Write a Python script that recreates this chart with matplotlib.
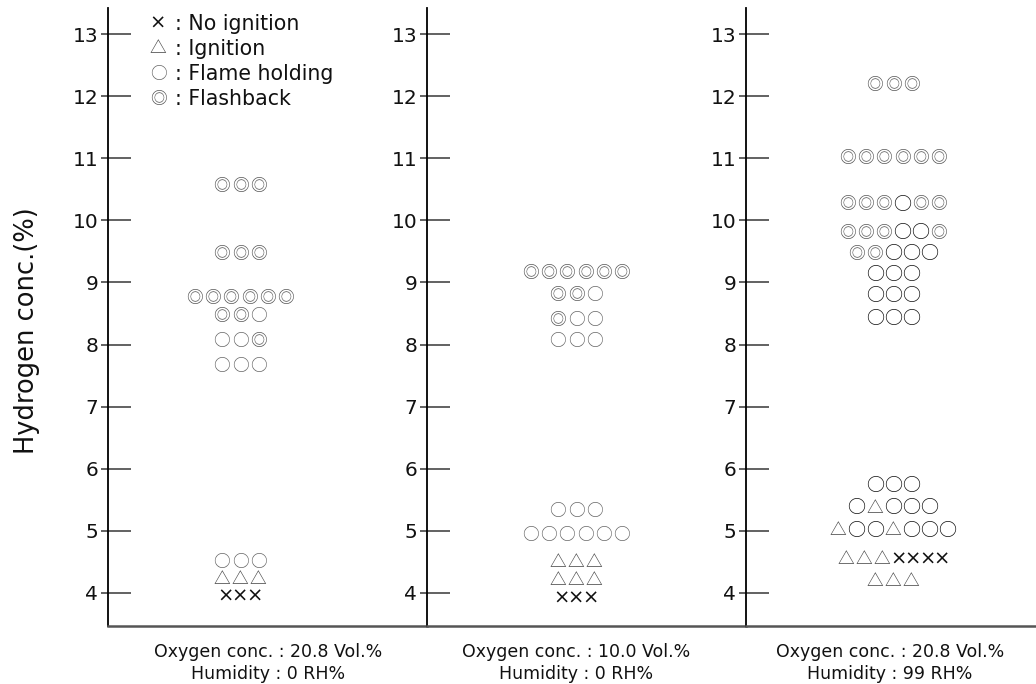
"""
Mapa de estados de combustión: concentración de hidrógeno por condición.
"""

import matplotlib
matplotlib.use("Agg")
import matplotlib.pyplot as plt
from matplotlib import transforms

# Datos: (conc. de hidrógeno %, símbolos de la fila)
filas_1 = [(10.6, '◎◎◎'), (9.5, '◎◎◎'), (8.8, '◎◎◎◎◎◎'), (8.5, '◎◎○'),
           (8.1, '○○◎'), (7.7, '○○○'), (4.55, '○○○'), (4.27, '△△△'),
           (4.0, '×××')]
filas_2 = [(9.2, '◎◎◎◎◎◎'), (8.85, '◎◎○'), (8.45, '◎○○'), (8.1, '○○○'),
           (5.37, '○○○'), (4.98, '○○○○○○'), (4.54, '△△△'), (4.26, '△△△'),
           (3.97, '×××')]
filas_3 = [(12.22, '◎◎◎'), (11.05, '◎◎◎◎◎◎'), (10.31, '◎◎◎○◎◎'),
           (9.85, '◎◎◎○○◎'), (9.51, '◎◎○○○'), (9.17, '○○○'), (8.83, '○○○'),
           (8.46, '○○○'), (5.78, '○○○'), (5.42, '○△○○○'), (5.06, '△○○△○○○'),
           (4.6, '△△△××××'), (4.24, '△△△')]

condiciones = ["Oxygen conc. : 20.8 Vol.%\nHumidity : 0 RH%",
               "Oxygen conc. : 10.0 Vol.%\nHumidity : 0 RH%",
               "Oxygen conc. : 20.8 Vol.%\nHumidity : 99 RH%"]

leyenda = [('×', 'No ignition'), ('△', 'Ignition'),
           ('○', 'Flame holding'), ('◎', 'Flashback')]

ticks_y = list(range(4, 14))

# Estilo
W, H = 1036, 684
SIMB = ['Noto Sans CJK JP', 'DejaVu Sans']
ancho = {'◎': 18.3, '○': 18.3, '△': 18.0, '×': 14.5}
color = {'◎': '#555555', '○': '#666666', '△': '#444444', '×': '#111111'}
fuente = {'◎': SIMB, '○': SIMB, '△': SIMB, '×': ['DejaVu Sans']}
tam = {'◎': 12, '○': 12, '△': 12, '×': 14}

fig = plt.figure(figsize=(W / 100, H / 100), dpi=100)

# (x del eje en px, ancho en px, centro de filas en px)
paneles = [(108, 319, 132), (427, 319, 149), (746, 290, 147)]
centros_texto = [268, 576, 890]
y_top, y_bot = 8, 626
ymin, ymax = 3.467, 13.419

for i, ((x0, w, cx), filas) in enumerate(zip(paneles, [filas_1, filas_2, filas_3])):
    ax = fig.add_axes([x0 / W, (H - y_bot) / H, w / W, (y_bot - y_top) / H])
    ax.set_xlim(0, w)
    ax.set_ylim(ymin, ymax)
    for s in ['top', 'right']:
        ax.spines[s].set_visible(False)
    ax.spines['left'].set_linewidth(1.3)
    ax.spines['bottom'].set_linewidth(1.8)
    ax.spines['bottom'].set_color('#555555')
    ax.set_xticks([])
    ax.yaxis.remove_overlapping_locs = False
    ax.set_yticks(ticks_y)
    ax.set_yticks(ticks_y, minor=True)
    ax.tick_params(axis='y', which='major', direction='in', length=16.6,
                   width=1.3, color='#555555', pad=7, labelsize=14.5,
                   labelcolor='#111111')
    ax.tick_params(axis='y', which='minor', direction='out', length=5,
                   width=1.3, color='#555555')

    # los glifos quedan algo altos con va='center': bajarlos unos px
    trans = transforms.offset_copy(ax.transData, fig=fig, y=-3.5, units='dots')
    for y, fila in filas:
        total = sum(ancho[c] for c in fila)
        x = cx - total / 2
        for c in fila:
            x += ancho[c] / 2
            col = color[c]
            size = tam[c]
            if i == 2 and c == '○':
                col = '#111111'
                size = 13
            ax.text(x, y, c, ha='center', va='center', fontsize=size,
                    color=col, family=fuente[c], transform=trans)
            x += ancho[c] / 2

    fig.text(centros_texto[i] / W, (H - 663) / H, condiciones[i],
             ha='center', va='center', fontsize=12.5, linespacing=1.25,
             family=['DejaVu Sans'], color='#111111')

# Leyenda
for k, (s, txt) in enumerate(leyenda):
    yp = 23.5 + k * 25.3
    fig.text(158 / W, (H - yp) / H, s, ha='center', va='center',
             fontsize=tam[s], color=color[s], family=fuente[s])
    fig.text(175 / W, (H - yp) / H, ': ' + txt, ha='left', va='center',
             fontsize=14.8, color='#111111')

fig.text(27 / W, (H - 331) / H, 'Hydrogen conc.(%)', rotation=90,
         ha='center', va='center', fontsize=18.5, color='#111111')

plt.savefig('out.png', dpi=100)
plt.close()
